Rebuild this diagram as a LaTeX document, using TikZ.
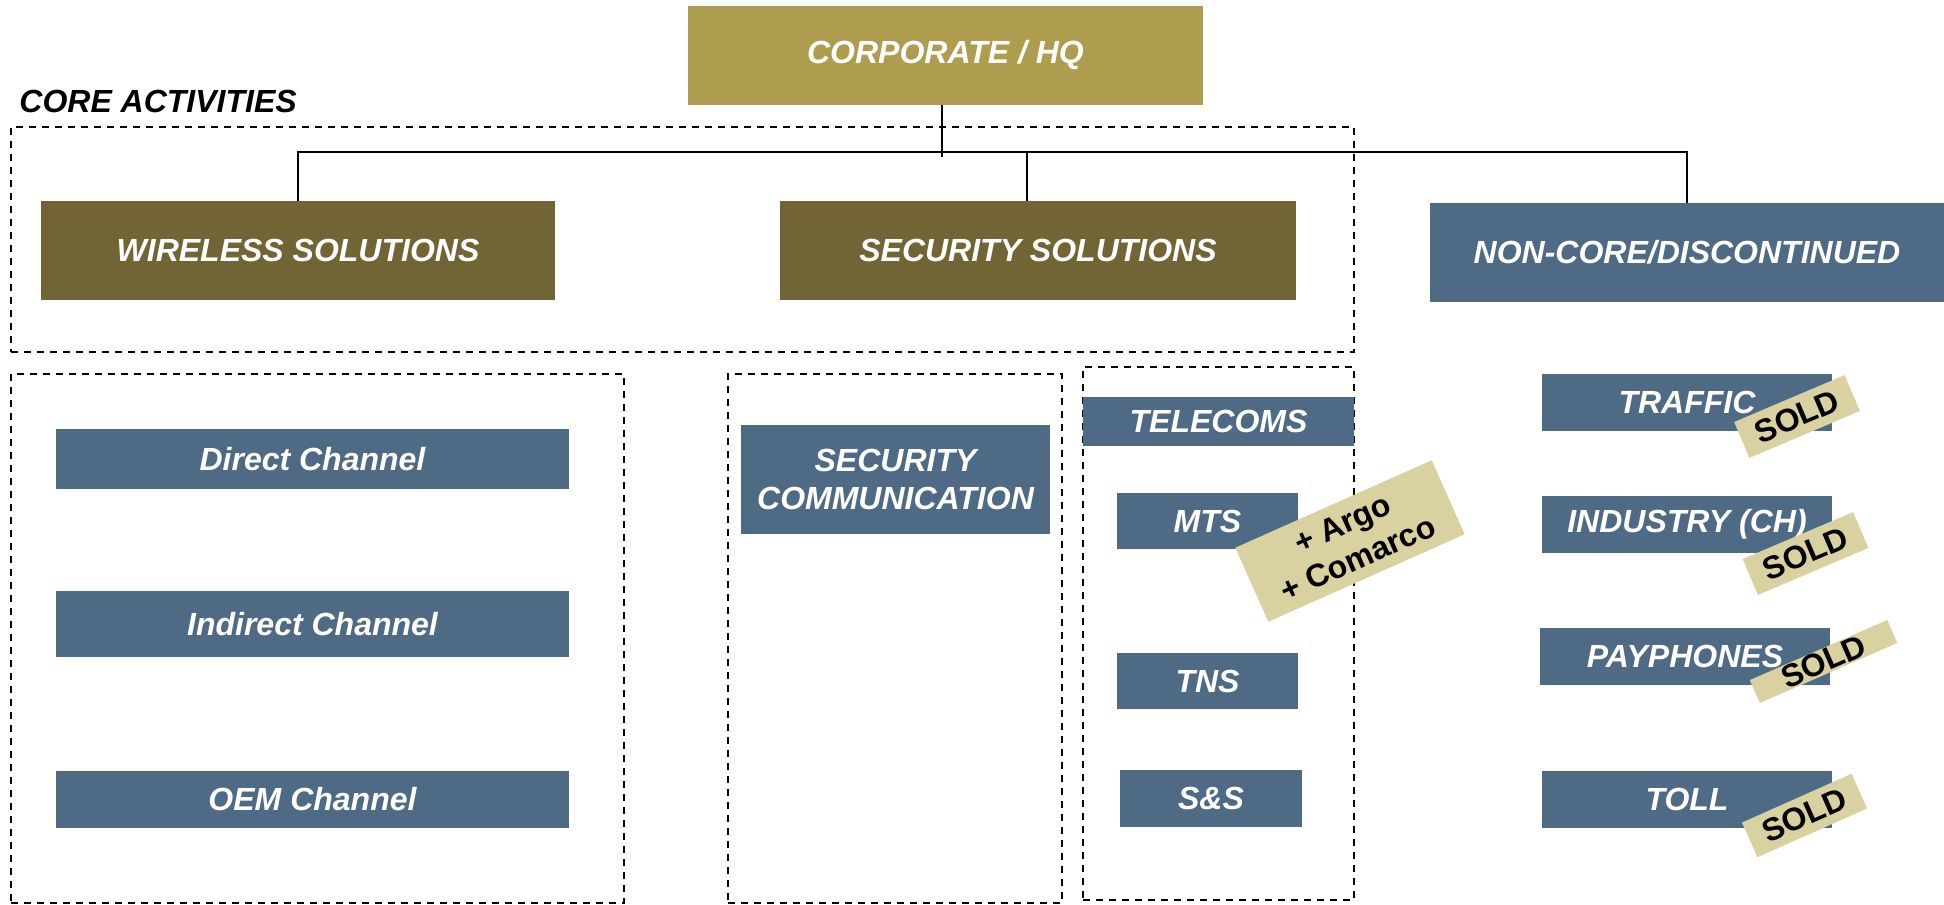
\documentclass[tikz,border=0pt]{standalone}
\usepackage{fontspec}
\setmainfont{Liberation Sans}
\usetikzlibrary{calc}
\definecolor{hqgold}{HTML}{AF9D4F}
\definecolor{olivec}{HTML}{716535}
\definecolor{slatec}{HTML}{4E6A85}
\definecolor{tagc}{HTML}{D9D2A0}
% box from corner (x1,y1) to (x2,y2) in pixel units
\newcommand\pxbox[7]{\node[#2, minimum width={(#5-#3)*0.5pt}, minimum height={(#6-#4)*0.5pt}] (#1) at ({(#3+#5)/2},{(#4+#6)/2}) {#7};}
\begin{document}
\begin{tikzpicture}[x=0.5pt,y=-0.5pt,
  lbl/.style={font=\fontsize{16}{19}\selectfont\bfseries\itshape},
  boxbase/.style={inner sep=0pt, outer sep=0pt, draw=none, text=white, lbl, align=center},
  goldbox/.style={boxbase, fill=hqgold},
  olivebox/.style={boxbase, fill=olivec},
  slatebox/.style={boxbase, fill=slatec},
  dashbox/.style={draw=black, line width=0.6pt, dash pattern=on 3.5pt off 3pt, inner sep=0pt},
  tagbox/.style={fill=tagc, inner sep=0pt, text=black, font=\fontsize{16}{19}\selectfont\bfseries, align=center},
  link/.style={draw=black, line width=0.6pt}]
\useasboundingbox (0,0) rectangle (1944,905);

% dashed groups
\pxbox{core}{dashbox}{11}{127}{1354}{352}{}
\pxbox{wgrp}{dashbox}{11}{374}{624}{903}{}
\pxbox{sgrp}{dashbox}{728}{374}{1062}{903}{}
\pxbox{tgrp}{dashbox}{1083}{367}{1354}{900}{}

\node[lbl, anchor=west, inner sep=0pt, text=black] (coretxt) at (19,101.5) {CORE ACTIVITIES};

% top level
\pxbox{hq}{goldbox}{688}{6}{1203}{105}{CORPORATE / HQ}
\pxbox{ws}{olivebox}{41}{201}{555}{300}{WIRELESS SOLUTIONS}
\pxbox{ss}{olivebox}{780}{201}{1296}{300}{SECURITY SOLUTIONS}
\pxbox{nc}{slatebox}{1430}{203}{1944}{302}{NON-CORE/DISCONTINUED}

% connectors
\coordinate (bus) at (942,152);
\draw[link] ([xshift=-1.75pt]hq.south) -- ++(0,52);
\draw[link] (ws.north) |- (bus) -| (nc.north);
\draw[link] ([xshift=-5.5pt]ss.north) -- ([xshift=-5.5pt]ss.north |- bus);

% wireless channels
\pxbox{dc}{slatebox}{56}{429}{569}{489}{Direct Channel}
\pxbox{ic}{slatebox}{56}{591}{569}{657}{Indirect Channel}
\pxbox{oc}{slatebox}{56}{771}{569}{828}{OEM Channel}

% security
\pxbox{scom}{slatebox}{741}{425}{1050}{534}{SECURITY\\COMMUNICATION}

% telecoms
\pxbox{tel}{slatebox}{1083}{397}{1354}{446}{TELECOMS}
\pxbox{mts}{slatebox}{1117}{493}{1298}{549}{MTS}
\pxbox{tns}{slatebox}{1117}{653}{1298}{709}{TNS}
\pxbox{sns}{slatebox}{1120}{770}{1302}{827}{S\&S}

% non-core
\pxbox{traf}{slatebox}{1542}{374}{1832}{431}{TRAFFIC}
\pxbox{ind}{slatebox}{1542}{496}{1832}{553}{INDUSTRY (CH)}
\pxbox{pay}{slatebox}{1540}{628}{1830}{685}{PAYPHONES}
\pxbox{toll}{slatebox}{1542}{771}{1832}{828}{TOLL}

% tags
\node[tagbox, minimum width=107.5pt, minimum height=40.5pt, rotate=24] (argo) at (1350,541) {+ Argo\\+ Comarco};
\node[tagbox, minimum width=60pt, minimum height=19.5pt, rotate=23] (sold1) at (1797,416.5) {SOLD};
\node[tagbox, minimum width=60pt, minimum height=19.5pt, rotate=23] (sold2) at (1805.5,553.5) {SOLD};
\node[tagbox, minimum width=75pt, minimum height=12.5pt, rotate=23.6] (sold3) at (1823.5,661.5) {SOLD};
\node[tagbox, minimum width=60pt, minimum height=19pt, rotate=24] (sold4) at (1804.5,815.5) {SOLD};
\end{tikzpicture}
\end{document}
